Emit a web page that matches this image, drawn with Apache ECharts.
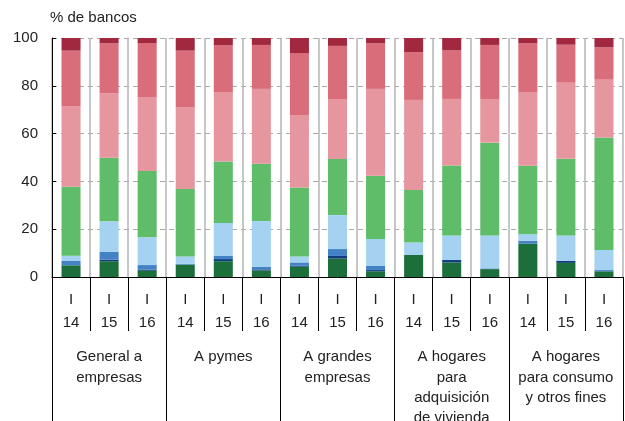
<!DOCTYPE html>
<html><head><meta charset="utf-8">
<script src="https://cdn.jsdelivr.net/npm/echarts@6/dist/echarts.min.js"></script>
<style>html,body{margin:0;padding:0;background:#fff}#c{width:625px;height:421px}</style>
</head><body><div id="c"></div>
<script>
const categories = ["I\n14","I\n15","I\n16","I\n14","I\n15","I\n16","I\n14","I\n15","I\n16","I\n14","I\n15","I\n16","I\n14","I\n15","I\n16"];
const groups = ["General a\nempresas","A pymes","A grandes\nempresas","A hogares\npara\nadquisición\nde vivienda","A hogares\npara consumo\ny otros fines"];
const yTicks = [0,20,40,60,80,100];
const darkGreen = [4.9,6.6,2.6,5.2,6.6,2.7,4.3,7.7,2.4,9.2,6.1,3.3,13.9,5.9,2.4];
const navy      = [0,0.7,0.5,0,0.9,0.5,0.4,1.1,0.5,0,1.0,0,0,0.9,0];
const steel     = [1.8,3.2,1.9,0.3,1.3,1.0,1.4,2.9,1.7,0,0,0.3,1.3,0,0.5];
const lightBlue = [2.2,12.8,11.6,3.1,13.8,19.2,2.5,14.2,11.3,5.2,10.3,13.8,2.7,10.6,8.4];
const green     = [28.9,26.6,27.8,28.2,25.7,24.0,28.8,23.5,26.5,22.0,29.3,38.8,28.7,32.1,47.1];
const lightPink = [33.5,26.9,30.9,34.1,29.1,31.3,30.4,25.1,36.3,37.7,27.8,18.3,30.8,31.8,24.4];
const pink      = [23.4,21.0,22.6,23.8,19.5,18.4,25.9,22.2,19.1,20.0,20.3,22.6,20.4,15.9,13.3];
const darkRed   = [5.3,2.2,2.1,5.3,3.1,2.9,6.3,3.3,2.2,5.9,5.2,2.9,2.2,2.8,3.9];

const seriesDefs = [
  ["darkGreen", darkGreen, "#1c6e3a"],
  ["navy", navy, "#0e3f7c"],
  ["steel", steel, "#4482c6"],
  ["lightBlue", lightBlue, "#a6d2f1"],
  ["green", green, "#5fbd6a"],
  ["lightPink", lightPink, "#e6969f"],
  ["pink", pink, "#d96d7a"],
  ["darkRed", darkRed, "#a1283f"]
];
const font = "Liberation Sans, Arial, Helvetica, sans-serif";
const chart = echarts.init(document.getElementById('c'), null, {renderer:'canvas'});
chart.setOption({
  animation:false,
  title:{text:"% de bancos", left:50, top:10, padding:0, textStyle:{fontFamily:font, fontSize:15, fontWeight:'normal', color:'#222'}},
  grid:{left:52, right:2, top:38, bottom:144, containLabel:false, outerBoundsMode:'none'},
  xAxis:[{
    type:'category', data:categories, position:'bottom',
    axisLine:{show:true, lineStyle:{color:'#000', width:1}},
    axisTick:{show:true, interval:0, length:54, lineStyle:{color:'#000', width:1}},
    axisLabel:{interval:0, margin:11, fontFamily:font, fontSize:15, color:'#222', lineHeight:23},
    splitLine:{show:true, interval:0, lineStyle:{color:'#b4b4b4', width:1.5}}
  },{
    type:'category', data:groups, position:'bottom',
    axisLine:{show:false},
    axisTick:{show:true, interval:0, length:144, lineStyle:{color:'#000', width:1}},
    axisLabel:{interval:0, margin:70, fontFamily:font, fontSize:15, color:'#222', lineHeight:20.3, verticalAlign:'top'},
    splitLine:{show:false}
  }],
  yAxis:{
    type:'value', min:0, max:100, interval:20,
    axisLine:{show:true, lineStyle:{color:'#000', width:1}},
    axisTick:{show:true, inside:true, length:4, lineStyle:{color:'#000'}},
    axisLabel:{margin:14, fontFamily:font, fontSize:15, color:'#222', formatter:v=>yTicks.includes(v)?String(v):''},
    splitLine:{show:true, lineStyle:{color:'#aaa', type:[5,4], width:1}}
  },
  series: seriesDefs.map(([n,d,c])=>({
    name:n, type:'bar', stack:'s', data:d, xAxisIndex:0,
    barCategoryGap:'50%', itemStyle:{color:c}, emphasis:{disabled:true}
  }))
});
</script></body></html>
